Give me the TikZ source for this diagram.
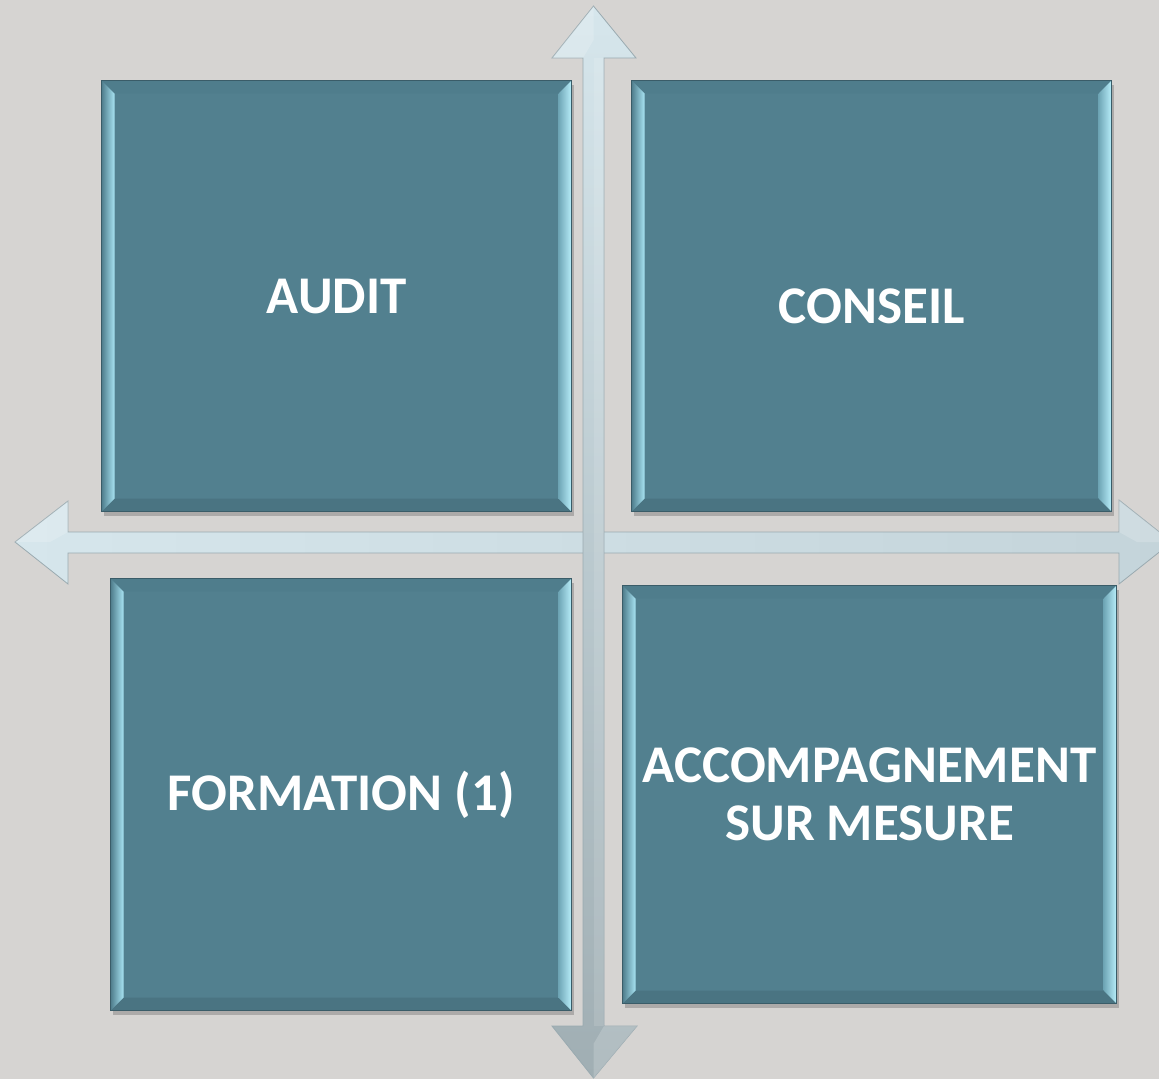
\documentclass[tikz,border=0pt]{standalone}
\usepackage{fontspec}
\setmainfont{Carlito}
\usetikzlibrary{calc,shadows}
\definecolor{bg}{HTML}{D6D4D2}
\definecolor{boxfill}{HTML}{52808F}
\definecolor{boxedge}{HTML}{3A5C68}
\definecolor{bevtop}{HTML}{4F7D8C}
\definecolor{bevbot}{HTML}{4A7482}
\definecolor{bevlight}{HTML}{A8E4F3}
\definecolor{bevbright}{HTML}{B8EEFA}
\definecolor{bevmid}{HTML}{6FA6B6}
\definecolor{arrlight}{HTML}{D6E6EC}
\definecolor{arrmid}{HTML}{C4D4DA}
\definecolor{arrdark}{HTML}{A0AEB3}
\definecolor{arredge}{HTML}{9AAAB0}
\tikzset{
  bevelbox/.style={draw=boxedge, line width=1.2pt, fill=boxfill, inner sep=0pt,
    anchor=north west, text=white, align=center,
    font=\bfseries\fontsize{53}{58}\selectfont,
    drop shadow={shadow xshift=2pt, shadow yshift=-4pt, opacity=0.3, fill=black!70},
    path picture={
      \coordinate (pnw) at (path picture bounding box.north west);
      \coordinate (pne) at (path picture bounding box.north east);
      \coordinate (psw) at (path picture bounding box.south west);
      \coordinate (pse) at (path picture bounding box.south east);
      \fill[bevtop] (pnw) -- (pne) -- ($(pne)+(-13pt,-13pt)$) -- ($(pnw)+(13pt,-13pt)$) -- cycle;
      \fill[bevbot] (psw) -- (pse) -- ($(pse)+(-13pt,13pt)$) -- ($(psw)+(13pt,13pt)$) -- cycle;
      \fill[left color=bevtop, right color=bevlight] (pnw) -- ($(pnw)+(13pt,-13pt)$) -- ($(psw)+(13pt,13pt)$) -- (psw) -- cycle;
      \fill[left color=bevmid, right color=bevbright] (pne) -- ($(pne)+(-13pt,-13pt)$) -- ($(pse)+(-13pt,13pt)$) -- (pse) -- cycle;
    }},
  arrowshape/.style={draw=arredge, line width=0.8pt, line join=miter},
  facet/.style={fill=white, opacity=0.18}
}
\begin{document}
\begin{tikzpicture}[x=1pt,y=-1pt]
\useasboundingbox (0,0) rectangle (1159,1079);
\fill[bg] (0,0) rectangle (1159,1079);
\begin{scope}
\clip (0,0) rectangle (1159,1079);
% horizontal double arrow
\coordinate (hl) at (15,542);
\coordinate (hr) at (1172,542);
\path[arrowshape, left color=arrlight, right color=arrmid]
  (hl) -- (68,501) -- (68,532) -- (1119,532) -- (1119,500) -- (hr)
  -- (1119,584) -- (1119,553) -- (68,553) -- (68,584) -- cycle;
\fill[facet] (hl) -- (68,501) -- (68,532) -- (50,542) -- cycle;
\fill[facet] (hr) -- (1119,500) -- (1119,532) -- (1137,542) -- cycle;
% vertical double arrow
\coordinate (vt) at (593.5,6);
\coordinate (vb) at (593.5,1078);
\path[arrowshape, top color=arrlight, bottom color=arrdark]
  (vt) -- (636,58) -- (604,58) -- (604,1026) -- (637,1026) -- (vb)
  -- (552,1026) -- (583,1026) -- (583,58) -- (552,58) -- cycle;
\fill[facet] (vt) -- (552,58) -- (583,58) -- (593.5,40) -- cycle;
\fill[facet] (vb) -- (637,1026) -- (604,1026) -- (593.5,1044) -- cycle;
\fill[white, opacity=0.12] (594,58) rectangle (604,1026);
\end{scope}
% boxes
\node[bevelbox, minimum width=470pt, minimum height=431pt] (audit) at (101,80) {AUDIT};
\node[bevelbox, minimum width=480pt, minimum height=431pt] (conseil) at (631,80) {\raisebox{-10pt}[\height][\depth]{CONSEIL}};
\node[bevelbox, minimum width=461pt, minimum height=432pt] (formation) at (110,578) {FORMATION (1)};
\node[bevelbox, minimum width=494pt, minimum height=418pt] (accomp) at (622,585) {ACCOMPAGNEMENT\\SUR MESURE};
\end{tikzpicture}
\end{document}
